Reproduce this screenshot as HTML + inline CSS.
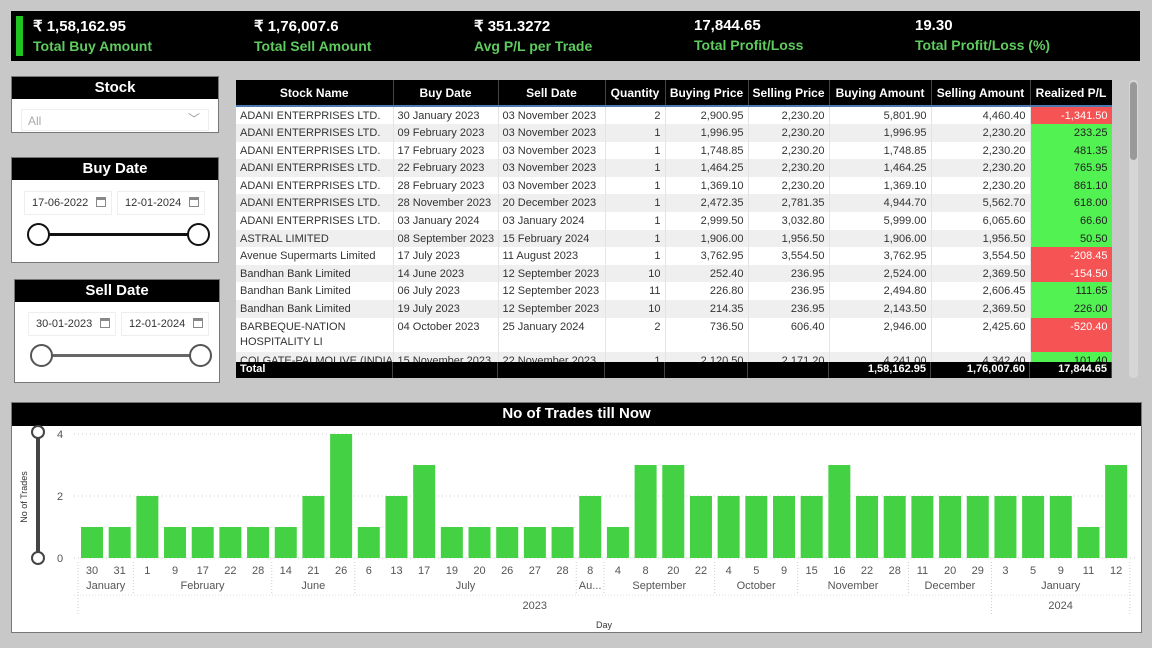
<!DOCTYPE html>
<html><head><meta charset="utf-8">
<style>
*{box-sizing:border-box;margin:0;padding:0}
body{width:1152px;height:648px;background:#c8c8c8;font-family:"Liberation Sans",sans-serif;position:relative;overflow:hidden}
.abs{position:absolute}
.kv{color:#fff;font-weight:bold;font-size:15px}
.kl{color:#5ecb5e;font-weight:bold;font-size:14px}
.panel{position:absolute;background:#fff;border:1px solid #777}
.ph{position:absolute;left:0;right:0;top:0;background:#000;color:#fff;font-weight:bold;font-size:15px;text-align:center}
.date{position:absolute;border:1px solid #eee;font-size:11px;color:#333;padding:5px 0 0 7px;height:24px}
.cal{position:absolute;right:5px;top:5px;width:10px;height:10px;border:1px solid #888;border-top-width:3px}
td,th{font-size:11px;white-space:nowrap;overflow:hidden}
</style></head><body>
<div class="abs" style="left:11px;top:11px;width:1129px;height:50px;background:#000"></div>
<div class="abs" style="left:16px;top:16px;width:7px;height:40px;background:#1fc41f"></div>
<div class="abs" style="left:33px;top:17px"><div class="kv">₹ 1,58,162.95</div><div class="kl" style="margin-top:3px">Total Buy Amount</div></div>
<div class="abs" style="left:254px;top:17px"><div class="kv">₹ 1,76,007.6</div><div class="kl" style="margin-top:3px">Total Sell Amount</div></div>
<div class="abs" style="left:474px;top:17px"><div class="kv">₹ 351.3272</div><div class="kl" style="margin-top:3px">Avg P/L per Trade</div></div>
<div class="abs" style="left:694px;top:17px"><div class="kv">17,844.65</div><div class="kl" style="margin-top:3px">Total Profit/Loss</div></div>
<div class="abs" style="left:915px;top:17px"><div class="kv">19.30</div><div class="kl" style="margin-top:3px">Total Profit/Loss (%)</div></div>

<div class="panel" style="left:11px;top:76px;width:208px;height:57px">
 <div class="ph" style="height:22px;line-height:21px">Stock</div>
 <div class="abs" style="left:9px;top:32px;width:188px;height:22px;border:1px solid #eee;font-size:12px;color:#aaa;padding:4px 0 0 6px">All<span style="position:absolute;right:8px;top:0px;color:#999;font-size:12px">﹀</span></div>
</div>
<div class="panel" style="left:11px;top:157px;width:208px;height:106px">
 <div class="ph" style="height:22px;line-height:21px">Buy Date</div>
 <div class="date" style="left:12px;top:33px;width:88px">17-06-2022<span class="cal"></span></div>
 <div class="date" style="left:105px;top:33px;width:88px">12-01-2024<span class="cal"></span></div>
 <div class="abs" style="left:26px;top:75px;width:160px;height:3px;background:#111"></div>
 <div class="abs" style="left:15px;top:65px;width:23px;height:23px;border:2px solid #111;border-radius:50%;background:#fff"></div>
 <div class="abs" style="left:175px;top:65px;width:23px;height:23px;border:2px solid #111;border-radius:50%;background:#fff"></div>
</div>
<div class="panel" style="left:14px;top:279px;width:206px;height:104px">
 <div class="ph" style="height:22px;line-height:21px">Sell Date</div>
 <div class="date" style="left:13px;top:32px;width:88px">30-01-2023<span class="cal"></span></div>
 <div class="date" style="left:106px;top:32px;width:88px">12-01-2024<span class="cal"></span></div>
 <div class="abs" style="left:26px;top:74px;width:160px;height:3px;background:#666"></div>
 <div class="abs" style="left:15px;top:64px;width:23px;height:23px;border:2px solid #555;border-radius:50%;background:#fff"></div>
 <div class="abs" style="left:174px;top:64px;width:23px;height:23px;border:2px solid #555;border-radius:50%;background:#fff"></div>
</div>

<div id="tbl" class="abs" style="left:236px;top:80px;width:876px;height:298px;background:#fff;overflow:hidden"></div>
<div class="abs" style="left:1129px;top:80px;width:9px;height:298px;background:#d6d6d6;border-radius:4px"></div>
<div class="abs" style="left:1130px;top:82px;width:7px;height:78px;background:#999;border-radius:4px"></div>

<div class="panel" style="left:11px;top:402px;width:1131px;height:231px">
 <div class="ph" style="height:23px;line-height:22px">No of Trades till Now</div>
</div>
<svg id="chart" class="abs" style="left:0;top:0" width="1152" height="648"></svg>

<script>
const headers=["Stock Name","Buy Date","Sell Date","Quantity","Buying Price","Selling Price","Buying Amount","Selling Amount","Realized P/L"];
const colW=[157,105,107,60,83,81,102,99,82];
const rows=[
["ADANI ENTERPRISES LTD.","30 January 2023","03 November 2023","2","2,900.95","2,230.20","5,801.90","4,460.40","-1,341.50"],
["ADANI ENTERPRISES LTD.","09 February 2023","03 November 2023","1","1,996.95","2,230.20","1,996.95","2,230.20","233.25"],
["ADANI ENTERPRISES LTD.","17 February 2023","03 November 2023","1","1,748.85","2,230.20","1,748.85","2,230.20","481.35"],
["ADANI ENTERPRISES LTD.","22 February 2023","03 November 2023","1","1,464.25","2,230.20","1,464.25","2,230.20","765.95"],
["ADANI ENTERPRISES LTD.","28 February 2023","03 November 2023","1","1,369.10","2,230.20","1,369.10","2,230.20","861.10"],
["ADANI ENTERPRISES LTD.","28 November 2023","20 December 2023","1","2,472.35","2,781.35","4,944.70","5,562.70","618.00"],
["ADANI ENTERPRISES LTD.","03 January 2024","03 January 2024","1","2,999.50","3,032.80","5,999.00","6,065.60","66.60"],
["ASTRAL LIMITED","08 September 2023","15 February 2024","1","1,906.00","1,956.50","1,906.00","1,956.50","50.50"],
["Avenue Supermarts Limited","17 July 2023","11 August 2023","1","3,762.95","3,554.50","3,762.95","3,554.50","-208.45"],
["Bandhan Bank Limited","14 June 2023","12 September 2023","10","252.40","236.95","2,524.00","2,369.50","-154.50"],
["Bandhan Bank Limited","06 July 2023","12 September 2023","11","226.80","236.95","2,494.80","2,606.45","111.65"],
["Bandhan Bank Limited","19 July 2023","12 September 2023","10","214.35","236.95","2,143.50","2,369.50","226.00"],
["BARBEQUE-NATION<br>HOSPITALITY LI","04 October 2023","25 January 2024","2","736.50","606.40","2,946.00","2,425.60","-520.40"],
["COLGATE-PALMOLIVE (INDIA)","15 November 2023","22 November 2023","1","2,120.50","2,171.20","4,241.00","4,342.40","101.40"]];
const totals=["Total","","","","","","1,58,162.95","1,76,007.60","17,844.65"];
let h='<table style="border-collapse:collapse;table-layout:fixed;width:876px"><colgroup>'+colW.map(w=>'<col style="width:'+w+'px">').join('')+'</colgroup>';
h+='<tr style="height:26px;background:#000;color:#fff">'+headers.map(x=>'<th style="font-weight:bold;font-size:12px;border-right:1px solid #444;border-bottom:2px solid #4a7ab0">'+x+'</th>').join('')+'</tr>';
rows.forEach((r,i)=>{
 const tall=r[0].includes('<br>');
 h+='<tr style="height:'+(tall?34:17.6)+'px;background:'+(i%2?'#efefef':'#fff')+';color:#333">';
 r.forEach((c,j)=>{
  let st='vertical-align:top;padding:2px 4px 0;line-height:15px;border-right:1px solid #e4e4e4;text-align:'+(j<3?'left':'right')+';';
  if(j==8){const neg=c[0]=='-';st+='background:'+(neg?'#f65454':'#52f252')+';color:'+(neg?'#fff':'#222')+';';}
  h+='<td style="'+st+'">'+c+'</td>';
 });
 h+='</tr>';
});
h+='</table>';
document.getElementById('tbl').innerHTML=h;
const tot=document.createElement('div');


tot.style.cssText='position:absolute;left:0;top:282px;width:876px;height:16px;background:#000;color:#fff;font-weight:bold;font-size:11px;display:flex';
tot.innerHTML=totals.map((t,j)=>'<div style="width:'+colW[j]+'px;border-right:1px solid #444;padding:1px 4px;text-align:'+(j<3?'left':'right')+'">'+t+'</div>').join('');
document.getElementById('tbl').appendChild(tot);

// chart data
const days=["30","31","1","9","17","22","28","14","21","26","6","13","17","19","20","26","27","28","8","4","8","20","22","4","5","9","15","16","22","28","11","20","29","3","5","9","11","12"];
const months=["January","January","February","February","February","February","February","June","June","June","July","July","July","July","July","July","July","July","Au...","September","September","September","September","October","October","October","November","November","November","November","December","December","December","January","January","January","January","January"];
const years=["2023","2023","2023","2023","2023","2023","2023","2023","2023","2023","2023","2023","2023","2023","2023","2023","2023","2023","2023","2023","2023","2023","2023","2023","2023","2023","2023","2023","2023","2023","2023","2023","2023","2024","2024","2024","2024","2024"];
const trades=[1,1,2,1,1,1,1,1,2,4,1,2,3,1,1,1,1,1,2,1,3,3,2,2,2,2,2,3,2,2,2,2,2,2,2,2,1,3];
const yTicks=[0,2,4];
const NS='http://www.w3.org/2000/svg';
const svg=document.getElementById('chart');
const x0=78,pitch=27.68,bw=22,yBase=558,yMax=4,yTop=434;
const xs=i=>x0+i*pitch;
const ys=v=>yBase-(v/yMax)*(yBase-yTop);
function mk(t,a){const e=document.createElementNS(NS,t);for(const k in a)e.setAttribute(k,a[k]);svg.appendChild(e);return e;}
yTicks.forEach(v=>{
 const g=mk('line',{x1:74,x2:1135,y1:ys(v),y2:ys(v),stroke:'#ccc','stroke-dasharray':'1 3'});
 
 
 const t=mk('text',{x:60,y:ys(v)+4,'font-size':11,fill:'#555','text-anchor':'middle','font-family':'Liberation Sans'});t.textContent=v;
 
 
});
trades.forEach((v,i)=>{
 const r=mk('rect',{x:xs(i)+3,y:ys(v),width:bw,height:yBase-ys(v),fill:'#44d144'});
 
 
 const t=mk('text',{x:xs(i)+3+bw/2,y:574,'font-size':11,fill:'#555','text-anchor':'middle','font-family':'Liberation Sans'});t.textContent=days[i];
 
 
});
function groups(arr,keyf){const g=[];arr.forEach((m,i)=>{const k=keyf(i);if(g.length&&g[g.length-1].k==k)g[g.length-1].e=i;else g.push({k:k,m:m,s:i,e:i});});return g;}
groups(months,i=>years[i]+months[i]).forEach(g=>{
 const cx=(xs(g.s)+xs(g.e+1))/2;
 const t=mk('text',{x:cx,y:589,'font-size':11,fill:'#555','text-anchor':'middle','font-family':'Liberation Sans'});t.textContent=g.m;
 
 
 const l=mk('line',{x1:xs(g.s),x2:xs(g.s),y1:562,y2:595,stroke:'#ccc','stroke-dasharray':'1 2'});
 
 
});
groups(years,i=>years[i]).forEach(g=>{
 const cx=(xs(g.s)+xs(g.e+1))/2;
 const t=mk('text',{x:cx,y:609,'font-size':11,fill:'#555','text-anchor':'middle','font-family':'Liberation Sans'});t.textContent=g.m;
 
 
 const l=mk('line',{x1:xs(g.s),x2:xs(g.s),y1:562,y2:615,stroke:'#ccc','stroke-dasharray':'1 2'});
 
 
});
mk('line',{x1:xs(days.length),x2:xs(days.length),y1:562,y2:615,stroke:'#ccc','stroke-dasharray':'1 2'});
mk('line',{x1:74,x2:1135,y1:595,y2:595,stroke:'#ddd','stroke-dasharray':'1 2'});
const xt=mk('text',{x:604,y:628,'font-size':9,fill:'#333','text-anchor':'middle','font-family':'Liberation Sans'});xt.textContent='Day';


const yt=mk('text',{x:0,y:0,'font-size':9,fill:'#333','text-anchor':'middle','font-family':'Liberation Sans',transform:'translate(27,497) rotate(-90)'});yt.textContent='No of Trades';


const tr=mk('line',{x1:38,x2:38,y1:432,y2:558,stroke:'#444','stroke-width':4});


[432,558].forEach((y,k)=>{
 const c=mk('circle',{cx:38,cy:y,r:6,fill:'#fff',stroke:'#444','stroke-width':2});
 
 
});
</script>
</body></html>
